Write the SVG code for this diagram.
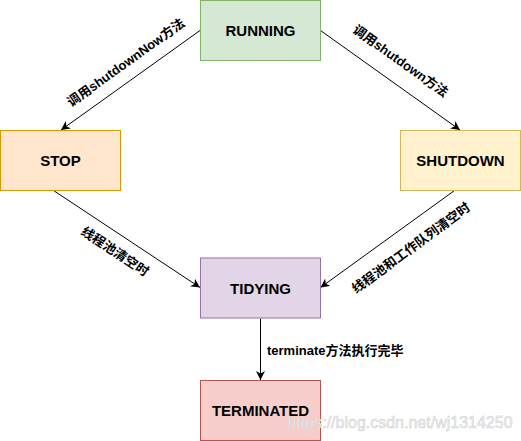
<svg xmlns="http://www.w3.org/2000/svg" width="521" height="441" viewBox="0 0 521 441">
<style>
.node{stroke-width:1}
.nl{font-family:"Liberation Sans","Noto Sans CJK SC",sans-serif;font-size:15px;font-weight:bold;fill:#000;text-anchor:middle;dominant-baseline:central}
.el{font-family:"Liberation Sans","Noto Sans CJK SC",sans-serif;font-size:13px;font-weight:bold;fill:#000;dominant-baseline:central}
.edge{stroke:#000;stroke-width:1;fill:none;marker-end:url(#arr)}
.wm{font-family:"Liberation Sans",Arial,sans-serif;font-size:16px;fill:#f0f0f0;stroke:#cfcfcf;stroke-width:0.5}
</style>
<defs>
<marker id="arr" markerUnits="userSpaceOnUse" markerWidth="9" markerHeight="9" viewBox="0 0 9 9" refX="9" refY="4.5" orient="auto">
<path d="M0,0 L9,4.5 L0,9 L2.5,4.5 z" fill="#000"/>
</marker>
</defs>
<rect width="521" height="441" fill="#fff"/>
<g id="connectors">
<line class="edge" x1="200" y1="30.5" x2="61" y2="130"/>
<line class="edge" x1="320.5" y1="30.5" x2="460" y2="130"/>
<line class="edge" x1="53.5" y1="190.5" x2="200" y2="287.5"/>
<line class="edge" x1="454.5" y1="190.5" x2="320.5" y2="287.5"/>
<line class="edge" x1="260.5" y1="318.5" x2="260.5" y2="380"/>
<text class="el" text-anchor="middle" transform="translate(126,62.5) rotate(-35.6)">调用shutdownNow方法</text>
<text class="el" text-anchor="middle" transform="translate(400.5,61) rotate(35.5)">调用shutdown方法</text>
<text class="el" text-anchor="middle" transform="translate(115,251.5) rotate(33.6)">线程池清空时</text>
<text class="el" text-anchor="middle" transform="translate(411,248) rotate(-36.2)">线程池和工作队列清空时</text>
<text class="el" x="267" y="350.5">terminate方法执行完毕</text>
</g>
<g id="running">
<rect class="node" x="200.5" y="0.5" width="120" height="60" fill="#d5e8d4" stroke="#82b366"/>
<text class="nl" x="260.5" y="30.5">RUNNING</text>
</g>
<g id="stop">
<rect class="node" x="0.5" y="130.5" width="120" height="60" fill="#ffe6cc" stroke="#d79b00"/>
<text class="nl" x="60.5" y="160.5">STOP</text>
</g>
<g id="shutdown">
<rect class="node" x="400.5" y="130.5" width="120" height="60" fill="#fff2cc" stroke="#d6b656"/>
<text class="nl" x="460.5" y="160.5">SHUTDOWN</text>
</g>
<g id="tidying">
<rect class="node" x="200.5" y="258" width="120" height="60" fill="#e1d5e7" stroke="#9673a6"/>
<text class="nl" x="260.5" y="288">TIDYING</text>
</g>
<g id="terminated">
<rect class="node" x="200.5" y="380.5" width="120" height="60" fill="#f8cecc" stroke="#b85450"/>
<text class="nl" x="260.5" y="410.5">TERMINATED</text>
</g>
<text class="wm" x="287.5" y="427.5">https://blog.csdn.net/wj1314250</text>
</svg>
